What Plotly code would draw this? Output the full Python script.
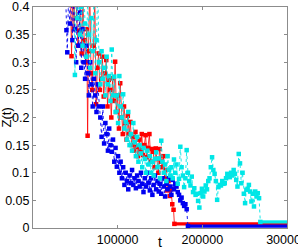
import plotly.graph_objects as go

# ---------------- data ----------------
red_t = [44000, 45500, 47000, 48500, 50000, 51500, 53000, 54500, 56000, 57500,
         59000, 60500, 62000, 63500, 64500, 65500, 67000, 68500, 70000, 71500,
         73000, 74500, 76000, 77500, 79000, 80500, 82000, 83500, 85000, 86500,
         88000, 89500, 91000, 92500, 94000, 95500, 97000, 98500, 100000, 101500,
         103000, 104500, 106000, 107500, 109000, 110500, 112000, 113500, 115000, 116500,
         118000, 119500, 121000, 122500, 124000, 125500, 127000, 128500, 130000, 131500,
         133000, 134500, 136000, 137500, 139000, 140500, 142000, 143500, 145000, 146500,
         148000, 149500, 151000, 152500, 154000, 155500, 157000, 158500, 160000, 161500,
         163000, 164500, 166000, 167000]
red_z = [0.46, 0.311, 0.43, 0.36, 0.45, 0.38, 0.33, 0.357, 0.42, 0.316,
         0.41, 0.34, 0.30, 0.36, 0.167, 0.32, 0.44, 0.28, 0.25, 0.33,
         0.42, 0.224, 0.29, 0.316, 0.25, 0.27, 0.31, 0.238, 0.28, 0.304,
         0.22, 0.268, 0.25, 0.20, 0.271, 0.23, 0.301, 0.21, 0.24, 0.18,
         0.262, 0.20, 0.17, 0.22, 0.19, 0.16, 0.203, 0.17, 0.192, 0.15,
         0.165, 0.14, 0.174, 0.147, 0.13, 0.16, 0.141, 0.17, 0.132, 0.15,
         0.168, 0.128, 0.145, 0.17, 0.12, 0.143, 0.138, 0.11, 0.144, 0.125,
         0.10, 0.143, 0.12, 0.11, 0.13, 0.09, 0.105, 0.068, 0.085, 0.058,
         0.07, 0.043, 0.033, 0.0075]
red_floor_t = [167000, 300000]
red_floor_z = [0.0075, 0.0075]

blue_t = [38000, 39500, 40500, 42000, 43500, 45000, 46500, 48000, 49500, 51000,
          52500, 54000, 55500, 57000, 58500, 60000, 61500, 63000, 64500, 66000,
          67500, 69000, 70500, 72000, 73500, 75000, 76500, 78000, 79500, 81000,
          82500, 84000, 85500, 87000, 88500, 90000, 91500, 93000, 94500, 96000,
          97500, 99000, 100500, 102000, 103500, 105000, 106500, 108000, 109500, 111000,
          112500, 114000, 115500, 117000, 118500, 120000, 121500, 123000, 124500, 126000,
          127500, 129000, 130500, 132000, 133500, 135000, 136500, 138000, 139500, 141000,
          142500, 144000, 145500, 147000, 148500, 150000, 151500, 153000, 154500, 156000,
          157500, 159000, 160500, 162000, 163500, 165000, 166500, 168000, 169500, 171000,
          172500, 174000, 175500, 177000, 178500, 180000, 181500, 183000]
blue_z = [0.45, 0.358, 0.318, 0.42, 0.37, 0.44, 0.34, 0.41, 0.36, 0.30,
          0.43, 0.33, 0.39, 0.29, 0.36, 0.30, 0.27, 0.33, 0.28, 0.24,
          0.30, 0.26, 0.22, 0.27, 0.24, 0.21, 0.26, 0.22, 0.20, 0.165,
          0.22, 0.153, 0.19, 0.17, 0.14, 0.18, 0.15, 0.138, 0.16, 0.12,
          0.145, 0.111, 0.13, 0.10, 0.12, 0.09, 0.11, 0.078, 0.10, 0.085,
          0.07, 0.095, 0.081, 0.105, 0.078, 0.09, 0.072, 0.095, 0.085, 0.075,
          0.10, 0.08, 0.065, 0.09, 0.075, 0.10, 0.082, 0.068, 0.09, 0.06,
          0.078, 0.095, 0.07, 0.085, 0.066, 0.08, 0.062, 0.09, 0.075, 0.057,
          0.08, 0.07, 0.09, 0.075, 0.06, 0.087, 0.07, 0.08, 0.075, 0.065,
          0.06, 0.05, 0.055, 0.045, 0.04, 0.043, 0.034, 0.0035]
blue_floor_t = [183000, 300000]
blue_floor_z = [0.0035, 0.0035]

cyan_t = [48000, 49500, 51000, 52500, 54000, 55500, 57000, 58500, 60000, 61500,
          63000, 64500, 66000, 67500, 69000, 70500, 72000, 73500, 75000, 76500,
          78000, 79500, 81000, 82500, 84000, 85500, 87000, 88500, 90000, 91500,
          93000, 94500, 96000, 97500, 99000, 100500, 102000, 103500, 105000, 106500,
          108000, 109500, 111000, 112500, 114000, 115500, 117000, 118500, 120000, 121500,
          123000, 124500, 126000, 127500, 129000, 130500, 132000, 133500, 135000, 136500,
          138000, 139500, 141000, 142500, 144000, 145500, 147000, 148500, 150000, 151500,
          153000, 154500, 156000, 157500, 159000, 160500, 162000, 163500, 165000, 166500,
          168000, 169500, 171000, 172500, 174000, 175500, 177000, 178500, 180000, 181500,
          183000, 184500, 186000, 187500, 189000, 190500, 192000, 193500, 195000, 196500,
          198000, 199500, 201000, 202500, 204000, 205500, 207000, 208500, 210000, 211500,
          213000, 214500, 216000, 217500, 219000, 220500, 222000, 223500, 225000, 226500,
          228000, 229500, 231000, 232500, 234000, 235500, 237000, 238500, 240000, 241500,
          243000, 244500, 246000, 247500, 249000, 250500, 252000, 253500, 255000, 256500,
          258000, 259500, 261000, 262500, 264000, 265500, 267000, 268500]
cyan_z = [0.45, 0.277, 0.42, 0.38, 0.44, 0.35, 0.40, 0.33, 0.43, 0.37,
          0.31, 0.41, 0.35, 0.29, 0.38, 0.32, 0.42, 0.28, 0.34, 0.44,
          0.30, 0.26, 0.32, 0.27, 0.29, 0.24, 0.31, 0.26, 0.275, 0.23,
          0.323, 0.24, 0.274, 0.21, 0.24, 0.19, 0.275, 0.22, 0.20, 0.242,
          0.18, 0.192, 0.16, 0.21, 0.15, 0.17, 0.14, 0.19, 0.155, 0.13,
          0.165, 0.12, 0.15, 0.135, 0.11, 0.145, 0.125, 0.10, 0.14, 0.115,
          0.13, 0.10, 0.12, 0.095, 0.125, 0.137, 0.11, 0.126, 0.09, 0.158,
          0.12, 0.10, 0.115, 0.085, 0.13, 0.105, 0.095, 0.11, 0.09, 0.124,
          0.10, 0.115, 0.08, 0.089, 0.147, 0.11, 0.095, 0.074, 0.09, 0.141,
          0.10, 0.085, 0.077, 0.093, 0.065, 0.072, 0.06, 0.062, 0.049, 0.037,
          0.063, 0.071, 0.057, 0.066, 0.077, 0.07, 0.085, 0.09, 0.11, 0.128,
          0.105, 0.098, 0.085, 0.051, 0.074, 0.078, 0.077, 0.085, 0.08, 0.081,
          0.09, 0.098, 0.095, 0.092, 0.10, 0.095, 0.105, 0.098, 0.087, 0.075,
          0.134, 0.117, 0.081, 0.10, 0.062, 0.045, 0.069, 0.071, 0.078, 0.066,
          0.048, 0.062, 0.039, 0.066, 0.057, 0.063, 0.054, 0.011]
cyan_floor_t = [268500, 300000]
cyan_floor_z = [0.011, 0.011]

x_ticks = [100000, 200000, 300000]
x_tick_labels = ["100000", "200000", "300000"]
y_ticks = [0, 0.05, 0.1, 0.15, 0.2, 0.25, 0.3, 0.35, 0.4]
y_tick_labels = ["0", "0.05", "0.1", "0.15", "0.2", "0.25", "0.3", "0.35", "0.4"]

RED = "#ff0000"
BLUE = "#0000f0"
CYAN = "#00e6e6"

fig = go.Figure()

def add_series(t, z, ft, fz, color, dash, lw):
    fig.add_trace(go.Scatter(x=ft, y=fz, mode="lines",
                             line=dict(color=color, width=3.2),
                             hoverinfo="skip", showlegend=False))
    fig.add_trace(go.Scatter(x=t, y=z, mode="lines+markers",
                             line=dict(color=color, width=lw, dash=dash),
                             marker=dict(symbol="square", size=4.5, color=color),
                             showlegend=False))

add_series(red_t, red_z, red_floor_t, red_floor_z, RED, "solid", 0.8)
add_series(blue_t, blue_z, blue_floor_t, blue_floor_z, BLUE, "dot", 0.9)
add_series(cyan_t, cyan_z, cyan_floor_t, cyan_floor_z, CYAN, "dot", 0.9)

axis_common = dict(
    showline=True, linecolor="#8c8c8c", linewidth=1, mirror="ticks",
    ticks="inside", ticklen=3, tickcolor="#8c8c8c", tickwidth=1,
    showgrid=False, zeroline=False, automargin=False,
    ticklabeloverflow="allow",
    tickfont=dict(family="Liberation Sans, Arial", size=12.5, color="black"),
)

fig.update_layout(
    width=298, height=249,
    margin=dict(l=33, r=11, t=7, b=21, autoexpand=False),
    paper_bgcolor="white", plot_bgcolor="white",
    xaxis=dict(range=[0, 300000], tickvals=x_ticks, ticktext=x_tick_labels, **axis_common),
    yaxis=dict(range=[0, 0.4], tickvals=y_ticks, ticktext=y_tick_labels, **axis_common),
    showlegend=False,
    annotations=[
        dict(text="Z(t)", x=0, y=0.5, xref="paper", yref="paper",
             textangle=-90, xanchor="center", yanchor="middle", xshift=-27,
             showarrow=False, font=dict(family="Liberation Sans, Arial", size=13, color="black")),
        dict(text="t", x=0.5, y=0, xref="paper", yref="paper",
             xanchor="center", yanchor="middle", yshift=-14,
             showarrow=False, font=dict(family="Liberation Sans, Arial", size=14, color="black")),
    ],
)

fig.write_html("out.html",
               config={"displayModeBar": False, "staticPlot": True},
               post_script="document.body.style.margin='0';document.body.style.overflow='hidden';")
